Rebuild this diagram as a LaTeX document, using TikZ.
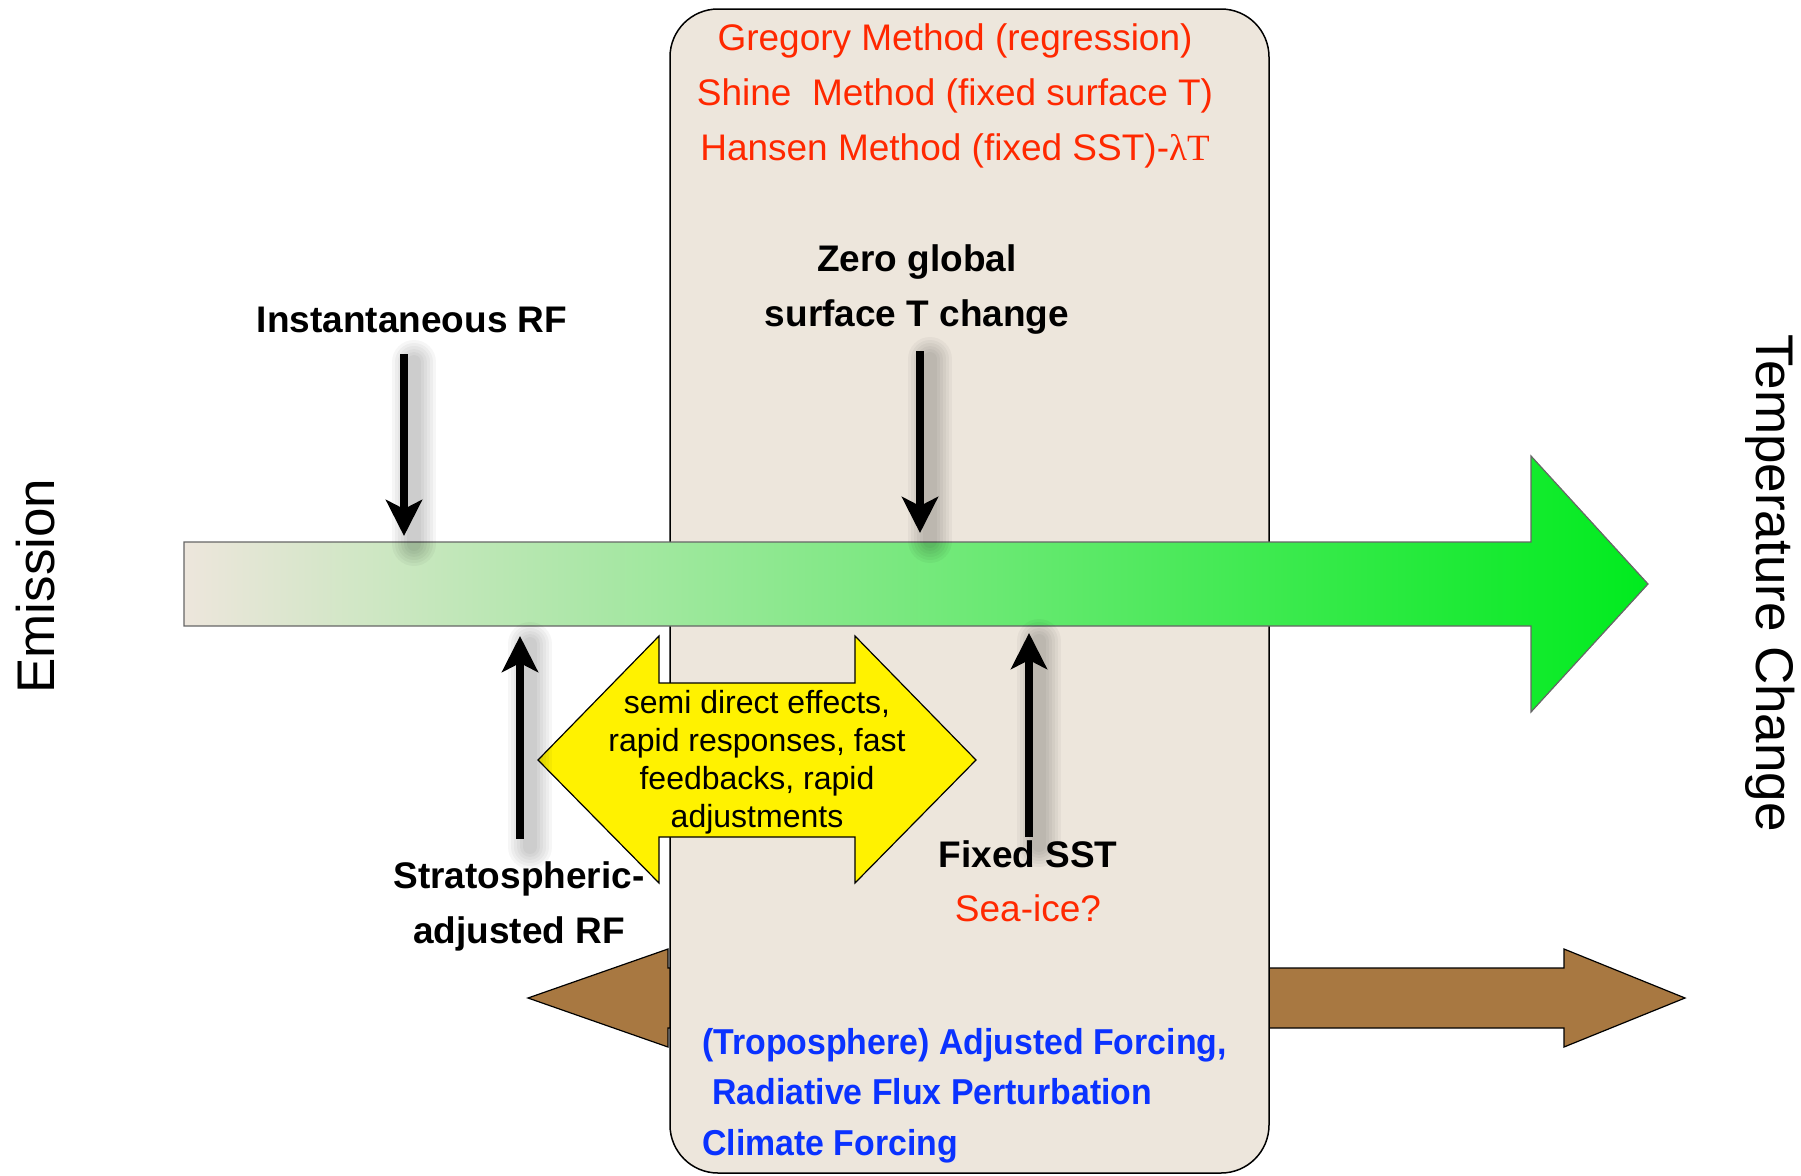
\documentclass[tikz,border=0pt]{standalone}
\usepackage{fontspec}
\setmainfont{Liberation Sans}
\newfontfamily\narrowfont[FakeStretch=0.94]{Liberation Sans}
\newfontfamily\lambdafont{Liberation Serif}
\usetikzlibrary{arrows.meta}
\usetikzlibrary{positioning}

\definecolor{boxfill}{RGB}{237,230,220}
\definecolor{arrowgreen}{RGB}{0,235,30}
\definecolor{adjbrown}{RGB}{168,120,65}
\definecolor{methodred}{RGB}{255,40,0}
\definecolor{forcingblue}{RGB}{10,50,255}

\tikzset{
  method/.style={text=methodred, font=\fontsize{37}{55}\selectfont, align=center},
  marker/.style={font=\fontsize{37}{55}\selectfont\bfseries, align=center},
  forcing/.style={text=forcingblue, font=\fontsize{36}{50}\selectfont\narrowfont\bfseries, anchor=west, inner sep=0},
  axislabel/.style={font=\fontsize{53}{60}\selectfont},
  rfarrow/.style={line width=8pt, -{Stealth[length=36pt,width=36pt,inset=9pt]}},
  rfshadow/.style={line width=#1, black, opacity=0.035, line cap=round},
}

\begin{document}
\begin{tikzpicture}[x=1pt,y=-1pt]
    \useasboundingbox (0,0) rectangle (1801,1175);

    % brown double arrow, behind the box
    \draw[fill=adjbrown, line width=1.2pt] (528,998) -- (668,949) -- (668,968) -- (1564,968) -- (1564,949)
        -- (1685,998) -- (1564,1047) -- (1564,1028) -- (668,1028) -- (668,1047) -- cycle;

    % method box
    \node[draw, fill=boxfill, line width=1.5pt, rounded corners=48, minimum width=599, minimum height=1164,
          inner sep=0] (methodbox) at (969.5,591) {};

    % big emission -> temperature arrow
    \shadedraw[left color=boxfill, right color=arrowgreen, draw=black!60, line width=1.2pt]
        (184,542) -- (1531,542) -- (1531,456) -- (1648,584) -- (1531,712) -- (1531,626) -- (184,626) -- cycle;

    % yellow double arrow
    \draw[fill=yellow, line width=1.2pt] (538,760) -- (659,636) -- (659,683) -- (855,683) -- (855,636)
        -- (976,760) -- (855,883) -- (855,837) -- (659,837) -- (659,883) -- cycle;
    \node[font=\fontsize{32}{38}\selectfont, align=center] (rapid) at (757,762)
        {semi direct effects,\\rapid responses, fast\\feedbacks, rapid\\adjustments};

    % arrow end points
    \coordinate (instTop) at (404,354);
    \coordinate (instTip) at (404,536);
    \coordinate (zeroTop) at (920,351);
    \coordinate (zeroTip) at (920,533);
    \coordinate (stratBot) at (520,839);
    \coordinate (stratTip) at (520,636);
    \coordinate (sstBot) at (1029,837);
    \coordinate (sstTip) at (1029,633);

    \foreach \a/\b in {instTop/instTip, zeroTop/zeroTip, stratBot/stratTip, sstBot/sstTip} {
        \foreach \w in {44,38,32,26,20,14}
            \draw[rfshadow=\w] ([shift={(10,8)}]\a) -- ([shift={(10,8)}]\b);
        \draw[rfarrow] (\a) -- (\b);
    }

    % texts
    \node[method] (methods) at (955,95.5)
        {Gregory Method (regression)\\Shine\ \ Method (fixed surface T)\\Hansen Method (fixed SST)-{\lambdafont λT}};
    \node[marker] (instRF) at (412,320) {Instantaneous RF};
    \node[marker] (zeroT) at (917,290) {Zero global\\surface T change};
    \node[marker] (stratRF) at (519,906) {Stratospheric-\\adjusted RF};
    \node[marker] (fixedSST) at (1028,854) {Fixed SST};
    \node[method, below=20pt of fixedSST] (seaice) {Sea-ice?};

    \node[forcing] (forcA) at (702,1045) {(Troposphere) Adjusted Forcing,};
    \node[forcing] (forcB) at (712,1092) {Radiative Flux Perturbation};
    \node[forcing] (forcC) at (702,1146) {Climate Forcing};

    \node[axislabel, rotate=90] (emission) at (36,586) {Emission};
    \node[axislabel, rotate=-90] (tchange) at (1770,583) {Temperature Change};
\end{tikzpicture}
\end{document}
